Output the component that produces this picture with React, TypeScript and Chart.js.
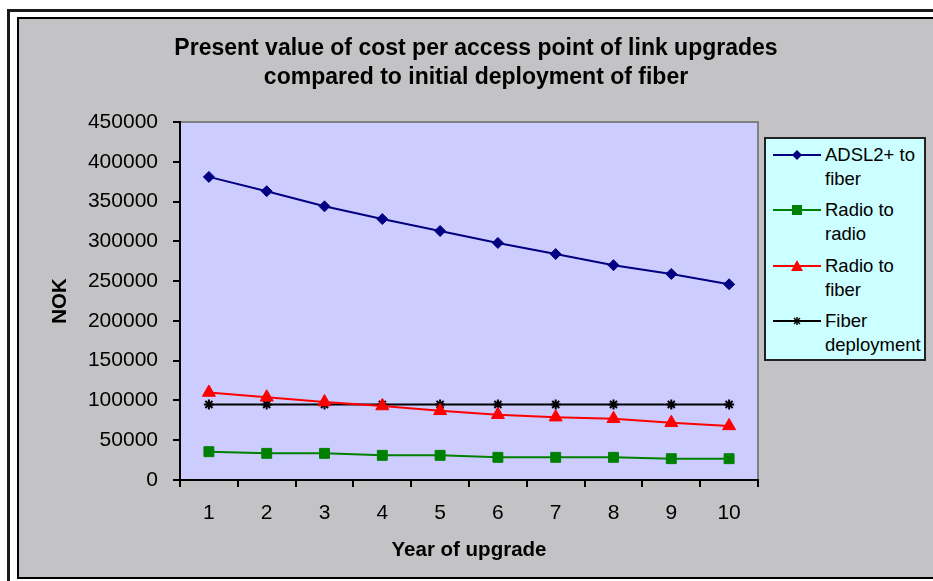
import React, { useEffect, useRef } from "react";
import { Chart, registerables } from "chart.js";

Chart.register(...registerables);

const years = ["1", "2", "3", "4", "5", "6", "7", "8", "9", "10"];
const adslToFiber = [381000, 363000, 344000, 328000, 313000, 298000, 284000, 270000, 259000, 246000];
const radioToRadio = [35600, 33500, 33500, 31000, 31000, 28500, 28500, 28500, 26800, 26800];
const radioToFiber = [110000, 104000, 98000, 93000, 87000, 82000, 79000, 77000, 72000, 68000];
const fiberDeployment = [95000, 95000, 95000, 95000, 95000, 95000, 95000, 95000, 95000, 95000];

const titleLines = ["Present value of cost per access point of link upgrades", "compared to initial deployment of fiber"];
const FONT = "'Liberation Sans', Arial, sans-serif";

const legendItems = [
  { lines: ["ADSL2+ to", "fiber"], color: "#000080", marker: "diamond" },
  { lines: ["Radio to", "radio"], color: "#008000", marker: "square" },
  { lines: ["Radio to", "fiber"], color: "#ff0000", marker: "triangle" },
  { lines: ["Fiber", "deployment"], color: "#000000", marker: "star" },
];

function Marker({ kind, color }: { kind: string; color: string }) {
  const cx = 24, cy = 6;
  let m: any = null;
  if (kind === "diamond") m = <polygon points={`${cx},${cy - 5} ${cx + 5},${cy} ${cx},${cy + 5} ${cx - 5},${cy}`} fill={color} />;
  if (kind === "square") m = <rect x={cx - 5} y={cy - 5} width={10} height={10} fill={color} />;
  if (kind === "triangle") m = <polygon points={`${cx},${cy - 6} ${cx + 6},${cy + 5} ${cx - 6},${cy + 5}`} fill={color} />;
  if (kind === "star")
    m = (
      <g stroke={color} strokeWidth={1.5}>
        <line x1={cx - 4} y1={cy} x2={cx + 4} y2={cy} />
        <line x1={cx} y1={cy - 4} x2={cx} y2={cy + 4} />
        <line x1={cx - 3} y1={cy - 3} x2={cx + 3} y2={cy + 3} />
        <line x1={cx - 3} y1={cy + 3} x2={cx + 3} y2={cy - 3} />
      </g>
    );
  return (
    <svg width={48} height={12} style={{ display: "block" }}>
      <line x1={0} y1={cy} x2={48} y2={cy} stroke={color} strokeWidth={2} />
      {m}
    </svg>
  );
}

export default function App() {
  const ref = useRef<HTMLCanvasElement>(null);

  useEffect(() => {
    if (!ref.current) return;
    const plotBg = {
      id: "plotBg",
      beforeDraw(chart: any) {
        const { ctx, chartArea } = chart;
        const { left, top, right, bottom } = chartArea;
        ctx.save();
        ctx.fillStyle = "#ccccff";
        ctx.fillRect(left, top, right - left, bottom - top);
        ctx.strokeStyle = "#808080";
        ctx.lineWidth = 2;
        ctx.strokeRect(left, top, right - left, bottom - top);
        ctx.restore();
      },
    };
    const ds = (label: string, data: number[], color: string, style: any, radius: number) => ({
      label,
      data,
      borderColor: color,
      backgroundColor: color,
      borderWidth: 2,
      pointStyle: style,
      pointRadius: radius,
      pointBorderColor: color,
      pointBackgroundColor: color,
      pointBorderWidth: style === "star" ? 2 : 1,
      tension: 0,
    });
    const chart = new Chart(ref.current, {
      type: "line",
      data: {
        labels: years,
        datasets: [
          ds("ADSL2+ to fiber", adslToFiber, "#000080", "rectRot", 5.5),
          ds("Radio to radio", radioToRadio, "#008000", "rect", 7),
          ds("Radio to fiber", radioToFiber, "#ff0000", "triangle", 7.5),
          ds("Fiber deployment", fiberDeployment, "#000000", "star", 5),
        ],
      },
      options: {
        responsive: false,
        animation: false,
        devicePixelRatio: 1,
        layout: { padding: { left: 44, top: 122, right: 175, bottom: 17 } },
        plugins: { legend: { display: false }, title: { display: false }, tooltip: { enabled: false } },
        scales: {
          x: {
            type: "category",
            offset: true,
            grid: { offset: true, drawOnChartArea: false, drawTicks: true, tickLength: 7, color: "#000", lineWidth: 2 },
            border: { color: "#000", width: 2 },
            ticks: { color: "#000", font: { family: FONT, size: 21 }, padding: 13.5, autoSkip: false, maxRotation: 0 },
            title: { display: true, text: "Year of upgrade", color: "#000", font: { family: FONT, size: 20.5, weight: "bold" }, padding: { top: 0, bottom: 1 } },
            afterFit(s: any) { s.height = 84; },
          },
          y: {
            min: 0,
            max: 450000,
            grid: { drawOnChartArea: false, drawTicks: true, tickLength: 7, color: "#000", lineWidth: 2 },
            border: { color: "#000", width: 2 },
            ticks: { stepSize: 50000, color: "#000", font: { family: FONT, size: 21 }, padding: 15, callback: (v: any) => String(v) },
            title: { display: true, text: "NOK", color: "#000", font: { family: FONT, size: 20.5, weight: "bold" }, padding: { top: 4, bottom: 4 } },
            afterFit(s: any) { s.width = 136; },
          },
        },
      } as any,
      plugins: [plotBg],
    });
    return () => chart.destroy();
  }, []);

  return (
    <div style={{ position: "fixed", left: 0, top: 0, width: 933, height: 581, background: "#fff", overflow: "hidden" }}>
      <div style={{ position: "absolute", left: 7, top: 9, width: 1000, height: 700, border: "3px solid #1a1a1a" }} />
      <div style={{ position: "absolute", left: 17, top: 17, width: 1000, height: 558, border: "2px solid #000", background: "#c3c2c4" }} />
      <canvas ref={ref} width={933} height={581} style={{ position: "absolute", left: 0, top: 0 }} />
      <div style={{ position: "absolute", left: 0, width: 952, top: 33, textAlign: "center", fontFamily: FONT, fontWeight: "bold", fontSize: 23, lineHeight: "29px", color: "#000" }}>
        {titleLines.map((t) => (<div key={t}>{t}</div>))}
      </div>
      <div style={{ position: "absolute", left: 764, top: 137, width: 158, height: 220, border: "2px solid #222", background: "#ccffff" }}>
        {legendItems.map((it, i) => (
          <div key={i} style={{ position: "absolute", left: 7, top: 4 + i * 55.3 }}>
            <div style={{ position: "absolute", left: 0, top: 6 }}><Marker kind={it.marker} color={it.color} /></div>
            <div style={{ position: "absolute", left: 52, top: 0, fontFamily: FONT, fontSize: 18.5, lineHeight: "24px", whiteSpace: "nowrap", color: "#000" }}>
              {it.lines.map((l) => (<div key={l}>{l}</div>))}
            </div>
          </div>
        ))}
      </div>
    </div>
  );
}
